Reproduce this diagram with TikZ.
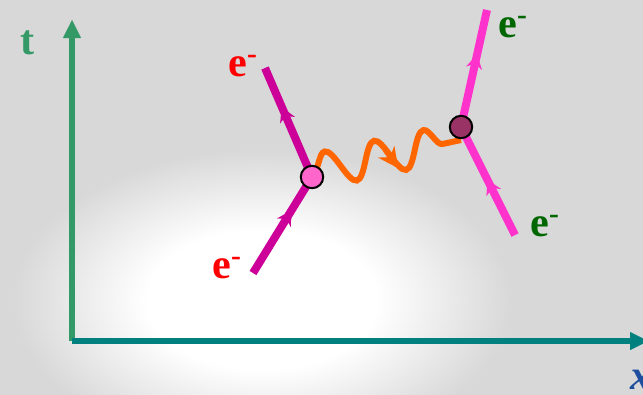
\documentclass[tikz,border=0pt]{standalone}
\usepackage{fontspec}
\setmainfont{Liberation Serif}
\usetikzlibrary{arrows.meta,decorations.pathmorphing,decorations.markings}

\definecolor{bggray}{HTML}{D8D8D8}
\definecolor{tgreen}{HTML}{339966}
\definecolor{xteal}{HTML}{00807F}
\definecolor{elecL}{HTML}{CC0099}
\definecolor{elecR}{HTML}{FF33CC}
\definecolor{dotL}{HTML}{FF66CC}
\definecolor{dotR}{HTML}{993366}
\definecolor{phot}{HTML}{FF6600}
\definecolor{labred}{HTML}{FF0000}
\definecolor{labgreen}{HTML}{006600}
\definecolor{xblue}{HTML}{1F4E9E}

\pgfdeclareradialshading{glow}{\pgfpoint{0bp}{0bp}}{color(0bp)=(white); color(6bp)=(white); color(13bp)=(bggray); color(50bp)=(bggray)}

\begin{document}
\begin{tikzpicture}[x=0.025cm,y=-0.025cm,>=Latex,
  axis/.style={line width=0.15cm,-{Triangle[length=0.45cm,width=0.45cm,line width=0.01pt]}},
  fermion/.style={line width=0.2cm,postaction={decorate},
    decoration={markings,mark=at position #1 with {\arrow{Stealth[length=0.35cm,width=0.4cm,line width=0.01pt]}}}},
  vtx/.style={circle,draw=black,line width=0.05cm,minimum size=0.56cm,inner sep=0pt},
  lab/.style={font=\fontsize{30}{32}\selectfont\bfseries}]
  \useasboundingbox (0,0) rectangle (643,394);
  % background
  \fill[bggray] (0,0) rectangle (643,394);
  \begin{scope}
    \clip (0,0) rectangle (643,394);
    \shade[shading=glow] (262,300) ellipse (480 and 290);
  \end{scope}
  % axes
  \coordinate (O) at (72,341);
  \coordinate (tTip) at (72,20);
  \coordinate (xTip) at (648,341);
  \draw[axis,draw=tgreen,fill=tgreen] (O) -- (tTip);
  \draw[axis,draw=xteal,fill=xteal] (O) -- (xTip);
  % vertices and free ends
  \coordinate (vL) at (312,177);
  \coordinate (vR) at (461,127);
  \coordinate (inL) at (253,273);
  \coordinate (outL) at (265,68);
  \coordinate (inR) at (515,235);
  \coordinate (outR) at (487,10);
  \draw[fermion=0.65,draw=elecL,fill=elecL] (inL) -- (vL);
  \draw[fermion=0.64,draw=elecL,fill=elecL] (vL) -- (outL);
  \draw[fermion=0.51,draw=elecR,fill=elecR] (inR) -- (vR);
  \draw[fermion=0.62,draw=elecR,fill=elecR] (vR) -- (outR);
  % photon
  \coordinate (phA) at (313,172);
  \coordinate (phB) at (461,140);
  \draw[phot,line width=0.15cm,decorate,
    decoration={snake,segment length=1.2617cm,amplitude=0.44cm}] (phA) -- (phB);
  \coordinate (phArrS) at (385,150);
  \coordinate (phArrE) at (398,168);
  \draw[phot,line width=0.12cm,-{Stealth[length=0.5cm,width=0.5cm,line width=0.01pt]}] (phArrS) -- (phArrE);
  \node[vtx,fill=dotL] (dotLeft) at (vL) {};
  \node[vtx,fill=dotR] (dotRight) at (vR) {};
  % labels
  \node[lab,text=tgreen] (tlab) at (28,43) {t};
  \node[lab,text=xblue,font=\fontsize{30}{32}\selectfont\bfseries\itshape,anchor=north west,inner sep=0pt] (xlab) at (630,370) {x};
  \node[lab,text=labred] (eOutL) at (243,66) {e\textsuperscript{-}};
  \node[lab,text=labred] (eInL) at (227,268) {e\textsuperscript{-}};
  \node[lab,text=labgreen] (eOutR) at (513,27) {e\textsuperscript{-}};
  \node[lab,text=labgreen] (eInR) at (545,226) {e\textsuperscript{-}};
\end{tikzpicture}
\end{document}
